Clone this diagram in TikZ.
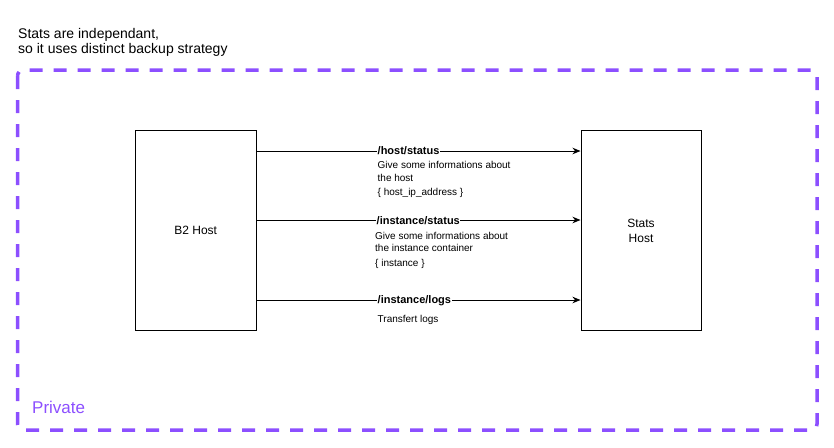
\documentclass[tikz,border=0pt]{standalone}
\usepackage{fontspec}
\setmainfont{Liberation Sans}
\usetikzlibrary{arrows.meta}
\definecolor{privpurple}{HTML}{8C4FFF}
\tikzset{
  hostbox/.style={draw=black, line width=1pt, fill=white, minimum width=120.5pt, minimum height=200pt, inner sep=0pt},
  flow/.style={draw=black, line width=1pt, -{Stealth[length=8pt,width=6.5pt,inset=2.5pt]}},
  route/.style={font=\fontsize{11}{13}\selectfont\bfseries, fill=white, inner xsep=0.5pt, inner ysep=1pt, anchor=west},
  note/.style={font=\fontsize{10}{12}\selectfont, inner sep=0pt, anchor=base west},
  hosttext/.style={font=\fontsize{12}{14.4}\selectfont, align=center, inner sep=0pt},
  groupbox/.style={draw=privpurple, line width=3.5pt, rounded corners=6pt, dash pattern=on 13pt off 11pt},
  header/.style={font=\fontsize{14}{15}\selectfont, inner sep=0pt, anchor=base west},
}
\begin{document}
\begin{tikzpicture}[x=1pt,y=-1pt]
\useasboundingbox (0,0) rectangle (834,447);
% group
\draw[groupbox] (17.5,70) rectangle (817,430);
\node[font=\fontsize{17}{20}\selectfont, text=privpurple, inner sep=0pt, anchor=base west] (priv) at (32,413.3) {Private};
% header
\node[header] (hdr1) at (18,38) {Stats are independant,};
\node[header] (hdr2) at (18,53) {so it uses distinct backup strategy};
% hosts
\node[hostbox] (b2) at (195.75,230) {};
\node[hostbox] (stats) at (641.25,230) {};
\node[hosttext, anchor=base] (b2t) at (195.75,234.3) {B2 Host};
\node[hosttext, anchor=base] (st1) at (641,227.6) {Stats};
\node[hosttext, anchor=base] (st2) at (641,242) {Host};
% connectors
\coordinate (y1) at (0,151);
\coordinate (y2) at (0,220);
\coordinate (y3) at (0,300);
\draw[flow] (b2.east |- y1) -- (stats.west |- y1);
\draw[flow] (b2.east |- y2) -- (stats.west |- y2);
\draw[flow] (b2.east |- y3) -- (stats.west |- y3);
% labels
\node[route] (l1) at (377,151) {/host/status};
\node[note] (n1a) at (377.5,168) {Give some informations about};
\node[note] (n1b) at (377.5,181) {the host};
\node[note] (n1c) at (377.5,195.5) {\{ host\_ip\_address \}};
\node[route] (l2) at (376,220.5) {/instance/status};
\node[note] (n2a) at (375,239.6) {Give some informations about};
\node[note] (n2b) at (375,251.3) {the instance container};
\node[note] (n2c) at (375,266.8) {\{ instance \}};
\node[route] (l3) at (377,300.5) {/instance/logs};
\node[note] (n3a) at (377.5,322.8) {Transfert logs};
\end{tikzpicture}
\end{document}
